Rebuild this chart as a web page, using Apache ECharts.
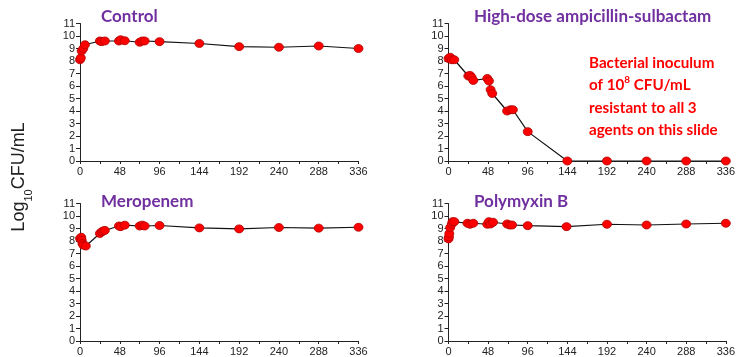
<!DOCTYPE html>
<html><head><meta charset="utf-8">
<script src="https://cdn.jsdelivr.net/npm/echarts@6/dist/echarts.min.js"></script>
<style>html,body{margin:0;padding:0;background:#fff}#c{width:738px;height:357px}</style>
</head><body><div id="c"></div>
<script>
// ---- data ----
const panelTitles = ['Control', 'High-dose ampicillin-sulbactam', 'Meropenem', 'Polymyxin B'];
const xTicks = [0, 48, 96, 144, 192, 240, 288, 336];
const yTicks = [0,1,2,3,4,5,6,7,8,9,10,11];

const controlT = [0,1,2,4,6,24,26,30,47,49,54,72,75,78,96,144,192,240,288,336];
const controlV = [8.1,8.25,8.8,9.0,9.3,9.6,9.55,9.6,9.6,9.7,9.62,9.5,9.6,9.6,9.55,9.4,9.15,9.1,9.2,9.0];

const ampSulbT = [0,2,4,7,24,26,28,30,47,49,51,53,71,75,78,96,144,192,240,288,336];
const ampSulbV = [8.2,8.3,8.1,8.1,6.8,6.85,6.7,6.45,6.6,6.4,5.7,5.4,4.0,4.1,4.1,2.35,0,0,0,0,0];

const meroT = [0,1.5,2,3,4,7,24,26,28,30,47,49,54,72,75,78,96,144,192,240,288,336];
const meroV = [8.2,8.3,8.07,7.8,7.67,7.6,8.6,8.73,8.8,8.85,9.2,9.15,9.27,9.2,9.27,9.2,9.24,9.05,8.97,9.08,9.03,9.1];

const polyT = [0,0.5,1,2,4,5,7,23,26,30,47,49,51,54,71,74,77,96,143,192,240,288,336];
const polyV = [8.17,8.33,8.6,9.07,9.36,9.55,9.55,9.42,9.34,9.42,9.34,9.55,9.36,9.5,9.36,9.28,9.28,9.23,9.15,9.34,9.28,9.36,9.42];

const panelT = [controlT, ampSulbT, meroT, polyT];
const panelV = [controlV, ampSulbV, meroV, polyV];

// ---- layout ----
const grids = [
  {left: 80, top: 23.5, width: 278.5, height: 137.5},
  {left: 448.5, top: 23.5, width: 279, height: 137.5},
  {left: 80, top: 203.5, width: 278.5, height: 137.5},
  {left: 448.5, top: 203.5, width: 279, height: 137.5}
];
const titlePos = [[101, 8], [474, 8], [101, 193], [474, 193]];

const axisColor = '#222';
const labelFont = {fontSize: 11, fontFamily: 'Liberation Sans', color: '#222'};

const option = {
  animation: false,
  backgroundColor: '#fff',
  grid: grids,
  title: panelTitles.map((t, i) => ({
    text: t, left: titlePos[i][0], top: titlePos[i][1], padding: 0,
    textStyle: {fontFamily: 'Lato', fontWeight: 'bold', fontSize: 17, color: '#7030A0'}
  })),
  xAxis: grids.map((g, i) => ({
    type: 'value', gridIndex: i, min: 0, max: 336, interval: 24,
    splitLine: {show: false},
    axisLine: {lineStyle: {color: axisColor, width: 1}},
    axisTick: {length: 3, lineStyle: {color: axisColor}},
    axisLabel: Object.assign({margin: 5, showMaxLabel: true,
      formatter: v => (xTicks.indexOf(v) >= 0 ? String(v) : '')}, labelFont)
  })),
  yAxis: grids.map((g, i) => ({
    type: 'value', gridIndex: i, min: yTicks[0], max: yTicks[yTicks.length - 1], interval: 1,
    splitLine: {show: false},
    axisLine: {show: true, lineStyle: {color: axisColor, width: 1}},
    axisTick: {show: true, length: 4, lineStyle: {color: axisColor}},
    axisLabel: Object.assign({margin: 5}, labelFont)
  })),
  series: panelT.map((ts, i) => ({
    type: 'line', xAxisIndex: i, yAxisIndex: i,
    data: ts.map((t, k) => [t, panelV[i][k]]),
    symbol: 'circle', symbolSize: [9, 8],
    itemStyle: {color: '#ff0000', borderColor: '#b00000', borderWidth: 0.8},
    lineStyle: {color: '#111', width: 1.2}
  })),
  graphic: [
    {
      type: 'text', x: 19, y: 177, rotation: Math.PI / 2,
      style: {
        text: '{a|Log}{s|10}{a|CFU/mL}',
        align: 'center', verticalAlign: 'middle',
        rich: {
          a: {fontFamily: 'Liberation Sans', fontSize: 18, fill: '#222', lineHeight: 24},
          s: {fontFamily: 'Liberation Sans', fontSize: 11, fill: '#222', verticalAlign: 'bottom', lineHeight: 24, padding: [0, 0, -3, 0]}
        }
      }
    },
    {
      type: 'text', x: 589, y: 52,
      style: {
        text: '{a|Bacterial inoculum}\n{a|of 10}{s|8}{a| CFU/mL}\n{a|resistant to all 3}\n{a|agents on this slide}',
        align: 'left', verticalAlign: 'top',
        rich: {
          a: {fontFamily: 'Lato', fontWeight: 'bold', fontSize: 15.2, fill: '#ff0000', lineHeight: 22.3},
          s: {fontFamily: 'Lato', fontWeight: 'bold', fontSize: 10, fill: '#ff0000', verticalAlign: 'top', lineHeight: 22.3, padding: [0, 0, 6, 0]}
        }
      }
    }
  ]
};
const chart = echarts.init(document.getElementById('c'), null, {renderer: 'canvas'});
chart.setOption(option);
</script></body></html>
